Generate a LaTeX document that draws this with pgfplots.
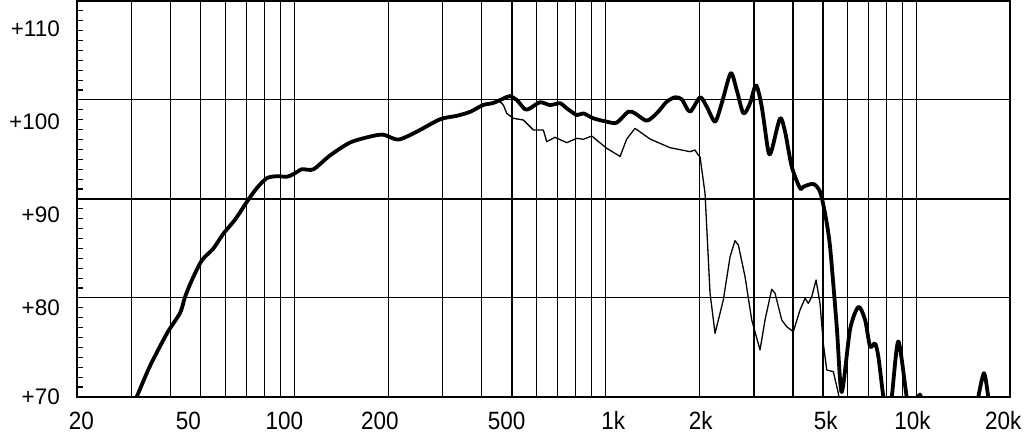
\documentclass[border=0pt]{standalone}
\usepackage{fontspec}
\setmainfont{Liberation Sans}
\newfontfamily\xlabfont[FakeStretch=0.9]{Liberation Sans}
\usepackage{pgfplots}
\pgfplotsset{compat=1.18}
\usepackage{pgfplotstable}

% thick curve (main response)
\pgfplotstableread{
f dB
28.8 67.7
31.1 70.0
34.3 73.1
38.9 76.4
42.9 78.5
44.5 80.1
46.8 81.8
50.4 83.8
54.9 85.0
59.1 86.5
64.4 87.9
70.3 89.7
75.7 91.1
81.5 92.1
87.7 92.3
94.5 92.25
99.2 92.5
105.6 93.0
115.1 93.0
130.2 94.4
150.9 95.7
175 96.3
193.2 96.5
215.8 96.0
247.4 96.8
294 98.05
332.6 98.4
367 98.8
405 99.5
436 99.7
481.6 100.3
493.6 100.4
518.7 100.0
551.5 99.06
572.4 99.16
616.3 99.77
663.8 99.49
715 99.67
751.3 99.16
809 98.48
849 98.65
914.6 98.15
1009.8 97.81
1087 97.71
1185 98.82
1245 98.65
1358 97.91
1462 98.65
1575 99.83
1675 100.27
1760 100.07
1871 98.82
2015 100.27
2118 99.32
2252 97.81
2366 99.67
2529 102.7
2644 101.0
2778 98.65
2918 99.67
3050 101.5
3182 99.32
3342 94.78
3426 94.95
3644 98.15
3782 96.8
3975 93.26
4225 91.08
4330 91.24
4662 91.52
4898 90.74
5083 88.56
5276 85.18
5545 77.1
5751 70.5
6117 76.8
6506 79.1
6838 77.8
7095 75.1
7362 75.4
7544 74.1
7830 70.0
8046 67.7
8330 70.0
8746 75.6
9308 70.0
9682 67.7
10046 69.7
10268 70.25
10504 69.7
13000 66.0
15434 67.7
15814 70.0
16498 72.4
17032 70.0
17506 67.7
20000 65.0
}\thickdata

% thin curve (off-axis response)
\pgfplotstableread{
f dB
28.8 67.7
31.1 70.0
34.3 73.1
38.9 76.4
42.9 78.5
44.5 80.1
46.8 81.8
50.4 83.8
54.9 85.0
59.1 86.5
64.4 87.9
70.3 89.7
75.7 91.1
81.5 92.1
87.7 92.3
94.5 92.25
99.2 92.5
105.6 93.0
115.1 93.0
130.2 94.4
150.9 95.7
175 96.3
193.2 96.5
215.8 96.0
247.4 96.8
294 98.05
332.6 98.4
367 98.8
405 99.5
436 99.7
458.4 99.83
469.8 99.49
481.6 98.65
505.6 98.15
544.6 97.98
586.7 96.97
631.7 96.97
647.6 95.79
688.6 96.23
751.3 95.69
809 96.13
849 96.03
903.8 96.36
1009.8 95.12
1115 94.3
1171 96.06
1245 97.14
1391 96.06
1614 95.18
1871 94.78
1941 94.95
1989 94.44
2015 94.27
2091 90.58
2170 80.47
2252 76.43
2336 78.45
2394 79.8
2517 84.17
2610 85.79
2676 85.35
2812 82.15
2955 77.78
3142 74.75
3260 77.78
3426 80.88
3512 80.47
3690 77.78
3828 77.1
4020 76.6
4225 78.79
4384 79.97
4493 79.46
4608 80.13
4757 81.82
4898 79.46
5019 75.42
5148 72.73
5406 72.56
5610 70.37
5767 67.7
}\thindata

\begin{document}
\begin{tikzpicture}
\begin{axis}[
  scale only axis, width=933pt, height=396pt,
  xmode=log,
  xmin=20, xmax=20000, ymin=70, ymax=110,
  axis line style={line width=1.8pt},
  xtick={20.65,45.6,92.8,188.5,481.6,1060,2027,5114,9718,19034},
  xticklabels={20,50,100,200,500,1k,2k,5k,10k,20k},
  ytick={70,78.99,88.48,97.81,107.24},
  yticklabels={+70,+80,+90,+100,+110},
  major tick length=0pt,
  minor ytick={71,72,73,74,75,76,77,78,79,81,82,83,84,85,86,87,88,89,91,92,93,94,95,96,97,98,99,101,102,103,104,105,106,107,108,109},
  minor tick length=6pt,
  tick align=inside,
  ytick pos=left, xtick pos=bottom,
  minor tick style={line width=1.2pt, black},
  extra x ticks={30,40,50,60,70,80,90,100,200,300,400,600,700,800,900,1000,2000,6000,7000,8000,9000,10000},
  extra x tick labels={},
  extra y ticks={80,100},
  extra y tick labels={},
  extra tick style={grid=major, major tick length=0pt},
  major grid style={black, line width=1pt},
  xticklabel style={font=\xlabfont\fontsize{25}{28}\selectfont, anchor=base, inner sep=0pt, yshift=-33pt},
  yticklabel style={font=\fontsize{22.5}{26}\selectfont, anchor=base east, inner sep=0pt, xshift=-17pt, yshift=-8pt},
]
\draw[line width=2pt] (axis cs:500,70) -- (axis cs:500,110);
\draw[line width=2pt] (axis cs:3000,70) -- (axis cs:3000,110);
\draw[line width=2pt] (axis cs:4000,70) -- (axis cs:4000,110);
\draw[line width=2pt] (axis cs:5000,70) -- (axis cs:5000,110);
\draw[line width=2pt] (axis cs:20,90) -- (axis cs:20000,90);
\addplot[black, line width=1.3pt, line join=round] table[x=f, y=dB] {\thindata};
\addplot[black, line width=3.8pt, line join=round, line cap=round, smooth, tension=0.45] table[x=f, y=dB] {\thickdata};
\end{axis}
\path ([shift={(-77pt,-46pt)}]current axis.south west) rectangle ([shift={(17pt,1pt)}]current axis.north east);
\end{tikzpicture}
\end{document}
